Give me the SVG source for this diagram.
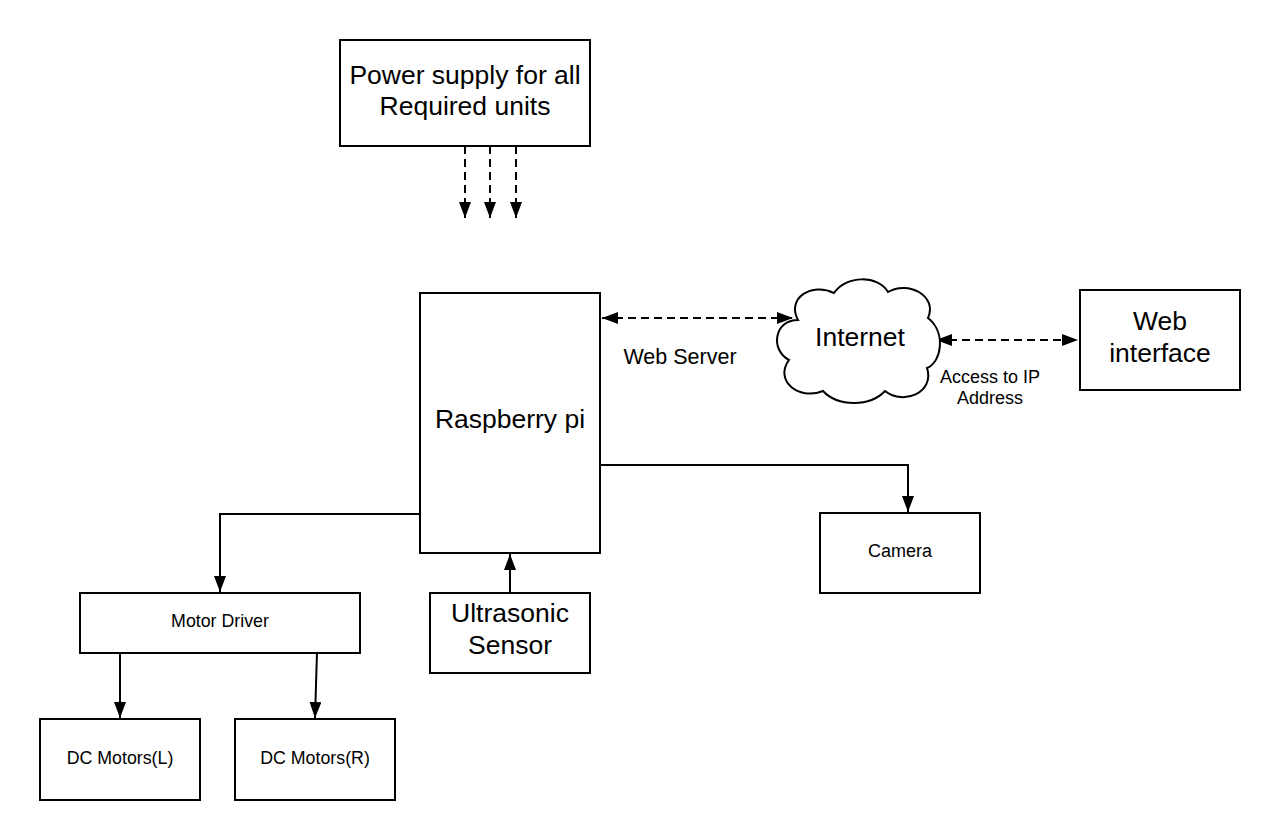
<svg xmlns="http://www.w3.org/2000/svg" width="1280" height="840" viewBox="0 0 1280 840">
<style>
.box{fill:#fff;stroke:#000;stroke-width:2}
.t{font-family:"Liberation Sans",Arial,sans-serif;fill:#000;text-anchor:middle}
.l{font-size:26.5px}
.s{font-size:17.8px}
.a{font-size:18px}
.m{font-size:21.5px}
.c{fill:none;stroke:#000;stroke-width:2}
.d{fill:none;stroke:#000;stroke-width:2;stroke-dasharray:8 5}
</style>
<defs>
<marker id="a" viewBox="0 0 16 12" refX="16" refY="6" markerWidth="16" markerHeight="12" markerUnits="userSpaceOnUse" orient="auto-start-reverse">
<path d="M0,0 L16,6 L0,12 Z" fill="#000"/>
</marker>
</defs>
<rect width="1280" height="840" fill="#fff"/>
<g id="connectors">
<path class="d" d="M465,146 V218" marker-end="url(#a)"/>
<path class="d" d="M490,146 V218" marker-end="url(#a)"/>
<path class="d" d="M516,146 V218" marker-end="url(#a)"/>
<path class="d" d="M602,318 H793" marker-start="url(#a)" marker-end="url(#a)"/>
<path class="d" d="M936,340 H1078" marker-start="url(#a)" marker-end="url(#a)"/>
<path class="c" d="M600,465 H908 V512" marker-end="url(#a)"/>
<path class="c" d="M421,514 H220 V592" marker-end="url(#a)"/>
<path class="c" d="M510,594 V554" marker-end="url(#a)"/>
<path class="c" d="M120,653 V718" marker-end="url(#a)"/>
<path class="c" d="M317,652 L315,718" marker-end="url(#a)"/>
</g>
<g id="power">
<rect class="box" x="340" y="40" width="250" height="106"/>
<text class="t l" x="465" y="84">Power supply for all</text>
<text class="t l" x="465" y="115">Required units</text>
</g>
<g id="raspberry">
<rect class="box" x="420" y="293" width="180" height="260"/>
<text class="t l" x="510" y="428">Raspberry pi</text>
</g>
<g id="internet">
<path class="box" d="M798,320 C786,298 812,282 834,293 C846,275 878,275 888,292 C908,280 938,296 928,318 C946,332 942,362 927,368 C935,392 904,406 885,391 C870,407 838,407 823,391 C798,401 774,380 789,360 C770,350 774,320 798,320 Z"/>
<text class="t l" x="860" y="346">Internet</text>
</g>
<g id="webserver-label">
<text class="t m" x="680" y="364">Web Server</text>
</g>
<g id="access-label">
<text class="t a" x="990" y="383">Access to IP</text>
<text class="t a" x="990" y="404">Address</text>
</g>
<g id="webinterface">
<rect class="box" x="1080" y="290" width="160" height="100"/>
<text class="t l" x="1160" y="330">Web</text>
<text class="t l" x="1160" y="362">interface</text>
</g>
<g id="camera">
<rect class="box" x="820" y="513" width="160" height="80"/>
<text class="t a" x="900" y="557">Camera</text>
</g>
<g id="motordriver">
<rect class="box" x="80" y="593" width="280" height="60"/>
<text class="t s" x="220" y="627">Motor Driver</text>
</g>
<g id="ultrasonic">
<rect class="box" x="430" y="593" width="160" height="80"/>
<text class="t l" x="510" y="622">Ultrasonic</text>
<text class="t l" x="510" y="654">Sensor</text>
</g>
<g id="dcl">
<rect class="box" x="40" y="719" width="160" height="81"/>
<text class="t s" x="120" y="764">DC Motors(L)</text>
</g>
<g id="dcr">
<rect class="box" x="235" y="719" width="160" height="81"/>
<text class="t s" x="315" y="764">DC Motors(R)</text>
</g>
</svg>
